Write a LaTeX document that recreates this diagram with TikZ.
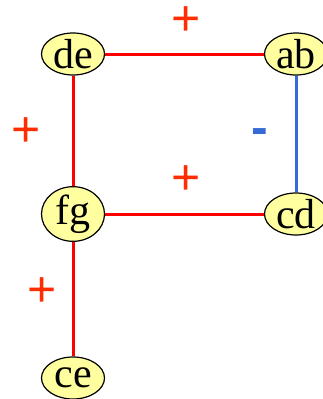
\documentclass[tikz,border=0pt]{standalone}
\usepackage{fontspec}
\setmainfont{Liberation Serif}
\newfontfamily\signfont{Liberation Sans}
\usetikzlibrary{shapes.geometric}

\definecolor{nodefill}{RGB}{255,255,160}
\definecolor{posred}{RGB}{255,45,0}
\definecolor{negblue}{RGB}{55,105,215}

\begin{document}
\begin{tikzpicture}[
  x=1pt, y=-1pt,
  vert/.style={draw, ellipse, fill=nodefill, line width=1.2pt, inner sep=0pt,
    minimum width=63pt, minimum height=42pt, font=\fontsize{42}{42}\selectfont},
  posedge/.style={red, line width=3pt},
  negedge/.style={negblue, line width=3pt},
  plussign/.style={text=posred, inner sep=0pt, font=\signfont\fontsize{50}{50}\selectfont},
  minussign/.style={text=negblue, inner sep=0pt, font=\signfont\bfseries\fontsize{50}{50}\selectfont}
]
\useasboundingbox (0,0) rectangle (323,399);

\node[vert] (de) at (73,54) {de};
\node[vert] (ab) at (296,54) {ab};
\node[vert] (fg) at (73,214) {fg};
\node[vert] (cd) at (296,214) {cd};
\node[vert] (ce) at (73,378) {ce};

\draw[posedge] (de) -- (ab);
\draw[negedge] (ab) -- (cd);
\draw[posedge] (de) -- (fg);
\draw[posedge] (fg) -- (cd);
\draw[posedge] (fg) -- (ce);

\node[plussign] (s1) at (186,21) {+};
\node[plussign] (s2) at (26,132) {+};
\node[minussign] (s3) at (260,137) {-};
\node[plussign] (s4) at (186,180) {+};
\node[plussign] (s5) at (42,292) {+};
\end{tikzpicture}
\end{document}
